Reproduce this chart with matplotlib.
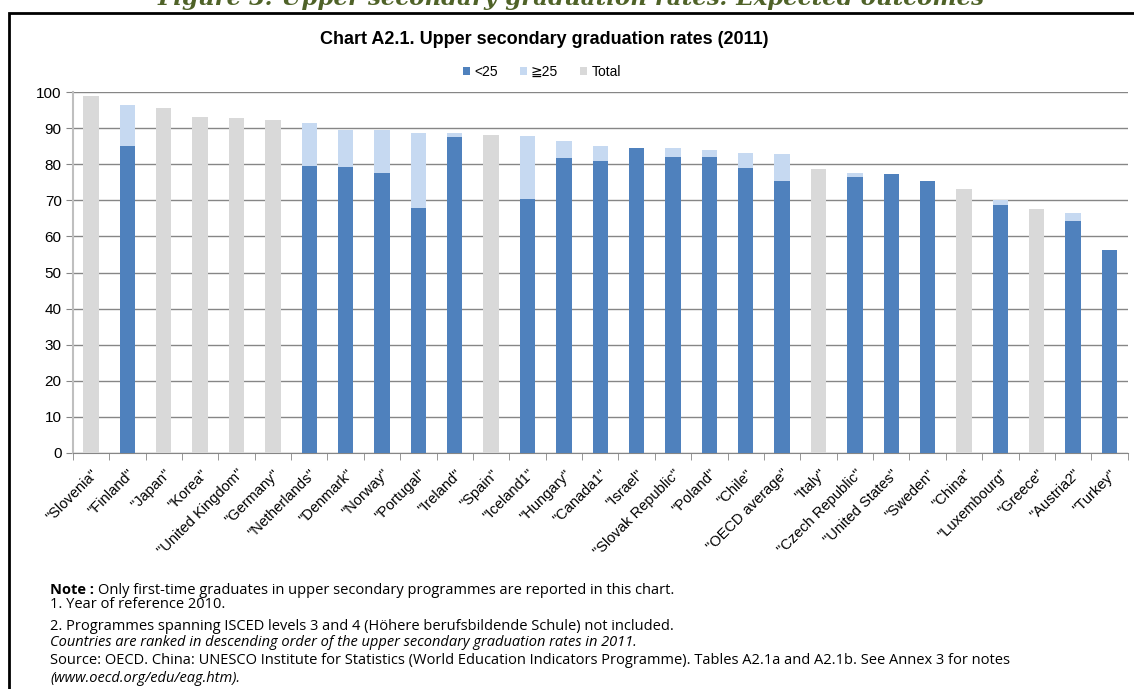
import numpy as np
import matplotlib
matplotlib.use("Agg")
import matplotlib.pyplot as plt
from matplotlib.patches import Rectangle

nan = np.nan

# Pays classés par taux d'obtention décroissant
countries = ["Slovenia", "Finland", "Japan", "Korea", "United Kingdom", "Germany",
             "Netherlands", "Denmark", "Norway", "Portugal", "Ireland", "Spain",
             "Iceland1", "Hungary", "Canada1", "Israel", "Slovak Republic", "Poland",
             "Chile", "OECD average", "Italy", "Czech Republic", "United States",
             "Sweden", "China", "Luxembourg", "Greece", "Austria2", "Turkey"]

# <25 ans
under25 = [nan, 85.1, nan, nan, nan, nan, 79.6, 79.3, 77.6, 67.9, 87.6, nan,
           70.4, 81.8, 81.0, 84.6, 82.1, 82.1, 79.0, 75.4, nan, 76.5, 77.3,
           75.4, nan, 68.8, nan, 64.4, 56.3]
# >=25 ans (empilé au-dessus)
over25 = [nan, 11.2, nan, nan, nan, nan, 11.9, 10.2, 11.9, 20.8, 1.1, nan,
          17.5, 4.5, 4.1, nan, 2.5, 1.7, 4.2, 7.5, nan, 1.1, nan,
          nan, nan, 1.4, nan, 2.2, nan]
# total seulement
total = [98.8, nan, 95.7, 93.2, 92.9, 92.3, nan, nan, nan, nan, nan, 88.2,
         nan, nan, nan, nan, nan, nan, nan, nan, 78.8, nan, nan,
         nan, 73.2, nan, 67.7, nan, nan]

yticks = list(range(0, 101, 10))

c_dark = "#4F81BD"
c_light = "#C6D9F1"
c_gray = "#D9D9D9"
c_grid = "#868686"

W, H = 1134, 689
fig = plt.figure(figsize=(W / 100, H / 100), dpi=100)
plt.rcParams["font.family"] = ["Liberation Sans", "DejaVu Sans"]

# titre du document (coupé en haut)
fig.text(571 / W, 1 - 5 / H, "Figure 3: Upper secondary graduation rates: Expected outcomes",
         ha="center", va="baseline", fontsize=16.5, color="#4F6228",
         fontweight="bold", fontstyle="italic", family="DejaVu Serif")

# cadre
fig.patches.append(Rectangle((9 / W, -0.05), 1.1, 1 - 13 / H + 0.05,
                             transform=fig.transFigure, fill=False,
                             edgecolor="black", linewidth=2))

ax = fig.add_axes([72.8 / W, 1 - 453 / H, (1127.7 - 72.8) / W, (453 - 92) / H])

x = np.arange(len(countries))
w = 0.42
u = np.array(under25)
o = np.array(over25)
t = np.array(total)

ax.bar(x, u, w, color=c_dark, label="<25", zorder=3)
ax.bar(x, o, w, bottom=np.nan_to_num(u), color=c_light, label="≧25", zorder=3)
ax.bar(x, t, w, color=c_gray, label="Total", zorder=3)

ax.set_xlim(-0.5, len(countries) - 0.5)
ax.set_ylim(0, 100)
ax.set_yticks(yticks)
ax.yaxis.grid(True, color=c_grid, linewidth=1, zorder=0)
ax.tick_params(axis="y", length=5, color=c_grid, labelsize=11, pad=3)

ax.set_xticks(x)
ax.set_xticklabels(['"%s"' % c for c in countries], rotation=45, ha="right",
                   rotation_mode="anchor", fontsize=10.5)
ax.tick_params(axis="x", which="major", length=0, pad=10)
ax.set_xticks(np.arange(-0.5, len(countries), 1), minor=True)
ax.tick_params(axis="x", which="minor", length=5, color=c_grid)

for s in ["top", "right"]:
    ax.spines[s].set_visible(False)
ax.spines["left"].set_color("#BFBFBF")
ax.spines["left"].set_linewidth(1.5)
ax.spines["bottom"].set_color(c_grid)

fig.text(544 / W, 1 - 40 / H, "Chart A2.1. Upper secondary graduation rates (2011)",
         ha="center", va="center", fontsize=13, fontweight="bold")

fig.legend(loc="center", bbox_to_anchor=(542 / W, 1 - 72 / H), ncol=3,
           frameon=False, fontsize=10, handlelength=0.5, handleheight=0.5,
           handletextpad=0.3, columnspacing=1.6)

# notes sous le graphique
nx = 50 / W
note_font = dict(fontsize=10.5, family="Open Sans")
t1 = fig.text(nx, 1 - 590 / H, "Note :", fontweight="bold", va="center", **note_font)
fig.canvas.draw()
bb = t1.get_window_extent()
fig.text(bb.x1 / W + 4 / W, 1 - 590 / H,
         "Only first-time graduates in upper secondary programmes are reported in this chart.",
         va="center", **note_font)
fig.text(nx, 1 - 605 / H, "1. Year of reference 2010.", va="center", **note_font)
fig.text(nx, 1 - 626 / H,
         "2. Programmes spanning ISCED levels 3 and 4 (Höhere berufsbildende Schule) not included.",
         va="center", **note_font)
fig.text(nx, 1 - 643 / H,
         "Countries are ranked in descending order of the upper secondary graduation rates in 2011.",
         va="center", fontstyle="italic", **note_font)
fig.text(nx, 1 - 661 / H,
         "Source: OECD. China: UNESCO Institute for Statistics (World Education Indicators Programme). "
         "Tables A2.1a and A2.1b. See Annex 3 for notes",
         va="center", **note_font)
fig.text(nx, 1 - 679 / H, "(www.oecd.org/edu/eag.htm).", va="center",
         fontstyle="italic", **note_font)

fig.savefig("out.png", dpi=100)
